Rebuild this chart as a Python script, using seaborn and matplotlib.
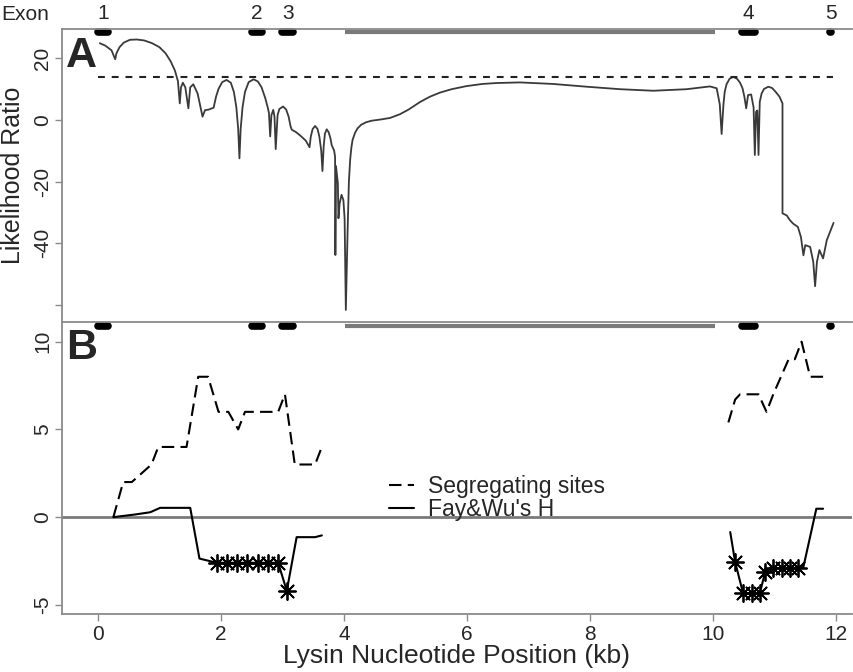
import numpy as np
import pandas as pd
import seaborn as sns
import matplotlib.pyplot as plt
from matplotlib.lines import Line2D
import matplotlib.transforms as mtrans

# exon / intron structure (kb)
exon_start = [0.0, 2.50, 3.00, 10.47, 11.90]
exon_end = [0.17, 2.67, 3.17, 10.68, 11.92]
exon_names = ['1', '2', '3', '4', '5']
gap_start, gap_end = 4.02, 10.03

# Panel A: likelihood ratio along the gene
a_kb = [0.03, 0.12, 0.22, 0.28, 0.30, 0.35, 0.42, 0.52, 0.63, 0.75, 0.88, 1.00,
        1.10, 1.18, 1.25, 1.30,
        1.33, 1.35, 1.38, 1.42, 1.47, 1.50, 1.55, 1.62, 1.70, 1.74, 1.80, 1.88,
        1.92, 1.96, 2.02, 2.09, 2.16, 2.21, 2.25, 2.28, 2.30, 2.32, 2.35, 2.39,
        2.45, 2.53, 2.60, 2.66, 2.72, 2.76, 2.78,
        2.80, 2.82, 2.85, 2.87, 2.89, 2.92, 2.95, 3.01, 3.06, 3.10, 3.13, 3.15,
        3.22, 3.30, 3.38, 3.44, 3.46, 3.49, 3.53, 3.57, 3.60, 3.63, 3.65, 3.67,
        3.69, 3.72, 3.75, 3.78, 3.80, 3.84, 3.855, 3.86, 3.87, 3.90, 3.91, 3.93,
        3.96, 3.99, 4.01, 4.03,
        4.06, 4.08, 4.10, 4.12, 4.14, 4.18, 4.22, 4.28, 4.36, 4.45, 4.60, 4.75,
        4.91, 5.05, 5.24, 5.40, 5.56, 5.75, 5.99, 6.25, 6.48, 6.86, 7.40, 7.95,
        8.49, 9.03, 9.57, 9.95,
        10.06, 10.11, 10.14, 10.17, 10.19, 10.22, 10.27, 10.33, 10.39, 10.44,
        10.48, 10.51, 10.54, 10.57, 10.62, 10.66, 10.68, 10.70, 10.72, 10.74,
        10.76, 10.79, 10.83, 10.90, 10.96, 11.02, 11.08, 11.13, 11.13, 11.20,
        11.25, 11.30, 11.38, 11.43, 11.47, 11.50, 11.58, 11.63, 11.66, 11.69,
        11.73, 11.79, 11.85, 11.96]
a_lr = [24.8, 24.0, 22.5, 19.6, 21.5, 23.5, 25.0, 25.9, 26.0, 25.7, 24.8, 23.5,
        21.5, 19.0, 16.0, 12.5,
        5.3, 10.5, 12.0, 10.5, 3.7, 10.5, 11.5, 8.5, 1.0, 3.1, 3.3, 3.9,
        7.5, 10.0, 12.2, 12.9, 12.0, 9.0, 4.0, -3.0, -12.5, -3.0, 4.0, 9.0,
        12.2, 13.1, 12.4, 10.5, 7.0, 4.0, 2.2,
        -5.4, 1.5, 3.2, 1.0, -9.5, 1.5, 3.5, 4.3, 3.3, 1.0, -2.0, -3.2,
        -4.0, -5.3, -6.8, -8.9, -5.5, -3.0, -2.0, -3.0, -5.5, -10.0, -16.6, -8.5,
        -4.5, -3.1, -4.0, -6.0, -8.2, -10.0, -12.0, -43.8, -15.0, -20.5, -31.9, -27.0,
        -24.3, -26.0, -31.9, -61.6,
        -35.0, -20.0, -13.0, -9.0, -6.5, -4.2, -2.8, -1.6, -0.8, -0.3, 0.1, 0.6,
        1.8, 3.3, 5.8, 7.5, 8.8, 9.9, 10.9, 11.6, 11.9, 12.1, 11.6, 10.7,
        9.9, 9.4, 9.9, 10.8,
        10.2, 5.0, -4.6, 5.0, 9.0, 11.5, 13.3, 13.9, 13.3, 12.0,
        10.2, 7.5, 3.7, 8.0, 8.2, 4.0, -11.4, 2.6, 3.0, -11.4,
        5.8, 8.5, 10.0, 10.7, 10.3, 9.0, 7.5, 5.3, -30.3, -31.0,
        -32.5, -33.6, -34.7, -38.0, -43.9, -40.6, -41.2, -46.0, -53.9, -46.0,
        -42.2, -44.9, -39.0, -33.4]
threshold = 14
thr_from, thr_to = 0.0, 11.95

# Panel B: sliding window, two sequenced regions
seg1_kb = [0.25, 0.41, 0.55, 0.87, 0.98, 1.44, 1.63, 1.79, 1.96, 2.12, 2.28, 2.39, 2.93, 3.04, 3.20, 3.53, 3.64]
seg1_s = [0, 2, 2, 3, 4, 4, 8, 8, 6, 6, 5, 6, 6, 7, 3, 3, 4]
seg2_kb = [10.25, 10.36, 10.44, 10.74, 10.87, 10.98, 11.23, 11.33, 11.44, 11.58, 11.79]
seg2_s = [5.4, 6.7, 7.0, 7.0, 6.0, 7.0, 9.0, 9.0, 10.0, 8.0, 8.0]

h1_kb = [0.25, 0.60, 0.85, 1.01, 1.50, 1.65, 1.93, 2.10, 2.26, 2.43, 2.60, 2.76, 2.93, 3.07, 3.23, 3.53, 3.64]
h1_h = [0.0, 0.15, 0.28, 0.53, 0.53, -2.36, -2.6, -2.6, -2.6, -2.6, -2.6, -2.6, -2.6, -4.2, -1.14, -1.14, -1.04]
h1_sig = [0, 0, 0, 0, 0, 0, 1, 1, 1, 1, 1, 1, 1, 1, 0, 0, 0]
h2_kb = [10.28, 10.36, 10.49, 10.63, 10.76, 10.85, 10.98, 11.12, 11.25, 11.39, 11.47, 11.68, 11.79]
h2_h = [-0.85, -2.56, -4.35, -4.35, -4.35, -3.1, -2.9, -2.9, -2.9, -2.9, -2.84, 0.48, 0.48]
h2_sig = [0, 1, 1, 1, 1, 1, 1, 1, 1, 1, 0, 0, 0]

sns.set_style('white')
plt.rcParams['font.family'] = ['Liberation Sans Narrow', 'Liberation Sans', 'DejaVu Sans']

W, H = 854, 672
fig = plt.figure(figsize=(W / 100, H / 100), dpi=100)
left, right = 62, 852
axA = fig.add_axes([left / W, 1 - 322 / H, (right - left) / W, 293 / H])
axB = fig.add_axes([left / W, 1 - 613.5 / H, (right - left) / W, 291.5 / H])

spine_col = '#8a8a8a'
for ax in (axA, axB):
    ax.set_xlim(-0.585, 12.26)
    ax.spines['right'].set_visible(False)
    for s in ['left', 'top', 'bottom']:
        ax.spines[s].set_color(spine_col)
        ax.spines[s].set_linewidth(1.3)
    ax.tick_params(axis='y', length=5, width=1, color=spine_col, labelsize=15, pad=2, left=True)

# ---- Panel A
dfA = pd.DataFrame({'kb': a_kb, 'lr': a_lr})
sns.lineplot(data=dfA, x='kb', y='lr', sort=False, estimator=None, color='#3a3a3a', lw=1.3, ax=axA)
axA.plot([thr_from, thr_to], [threshold, threshold], color='#222222', lw=1.5, dashes=(3.3, 3.3))
axA.set_ylim(-65.5, 29.4)
axA.set_yticks([-60, -40, -20, 0, 20])
axA.set_yticklabels(['', '-40', '-20', '0', '20'], rotation=90, va='center')
axA.set_xticks([])
axA.spines['bottom'].set_visible(False)
axA.set_xlabel('')
axA.set_ylabel('Likelihood Ratio', fontsize=18, labelpad=6)
axA.text(0.005, 0.975, 'A', transform=axA.transAxes, fontsize=31, fontweight='bold',
         family=['Liberation Sans', 'DejaVu Sans'], ha='left', va='top')

# ---- Panel B
axB.axhline(0, color='#7a7a7a', lw=2)
for kb, s in [(seg1_kb, seg1_s), (seg2_kb, seg2_s)]:
    sns.lineplot(x=kb, y=s, sort=False, estimator=None, color='black', lw=1.5,
                 ax=axB).lines[-1].set_dashes((6, 3))
for kb, h, sig in [(h1_kb, h1_h, h1_sig), (h2_kb, h2_h, h2_sig)]:
    sns.lineplot(x=kb, y=h, sort=False, estimator=None, color='black', lw=1.5, ax=axB)
    d = pd.DataFrame({'kb': kb, 'h': h, 'sig': sig})
    d = d[d['sig'] == 1]
    sns.scatterplot(data=d, x='kb', y='h', marker=(8, 2, 0), s=150, color='black',
                    linewidth=1.3, edgecolor='black', ax=axB)
axB.set_ylim(-5.49, 11.12)
axB.set_yticks([-5, 0, 5, 10])
axB.set_yticklabels(['-5', '0', '5', '10'], rotation=90, va='center')
axB.set_xticks(range(0, 13, 2))
axB.tick_params(axis='x', length=5, width=1, color=spine_col, labelsize=15, pad=3, bottom=True)
axB.set_xlabel('Lysin Nucleotide Position (kb)', fontsize=19, labelpad=0)
axB.set_ylabel('')
axB.text(0.005, 0.978, 'B', transform=axB.transAxes, fontsize=31, fontweight='bold',
         family=['Liberation Sans', 'DejaVu Sans'], ha='left', va='top')

handles = [Line2D([], [], color='black', lw=1.5, dashes=(6, 3)),
           Line2D([], [], color='black', lw=1.5)]
axB.legend(handles, ['Segregating sites', "Fay&Wu's H"], loc='upper left',
           bbox_to_anchor=(0.399, 0.515), frameon=False, fontsize=16.5,
           handlelength=1.1, handletextpad=0.6, labelspacing=0.0, borderpad=0)

# ---- exon structure on top of each panel
for ax, yfrac in [(axA, 0.99), (axB, 0.987)]:
    tr = mtrans.blended_transform_factory(ax.transData, ax.transAxes)
    ax.plot([gap_start, gap_end], [yfrac, yfrac], color='#7a7a7a', lw=3, transform=tr,
            solid_capstyle='butt', clip_on=False)
    for s0, s1 in zip(exon_start, exon_end):
        ax.plot([s0, s1], [yfrac, yfrac], color='black', lw=5.5, transform=tr,
                solid_capstyle='round', clip_on=False)

trA = mtrans.blended_transform_factory(axA.transData, axA.transAxes)
for s0, s1, name in zip(exon_start, exon_end, exon_names):
    axA.text((s0 + s1) / 2, 1.02, name, transform=trA, ha='center', va='bottom', fontsize=15)
fig.text(25 / W, 1 - 14 / H, 'Exon', ha='center', va='center', fontsize=15)

fig.savefig('out.png', dpi=100)
